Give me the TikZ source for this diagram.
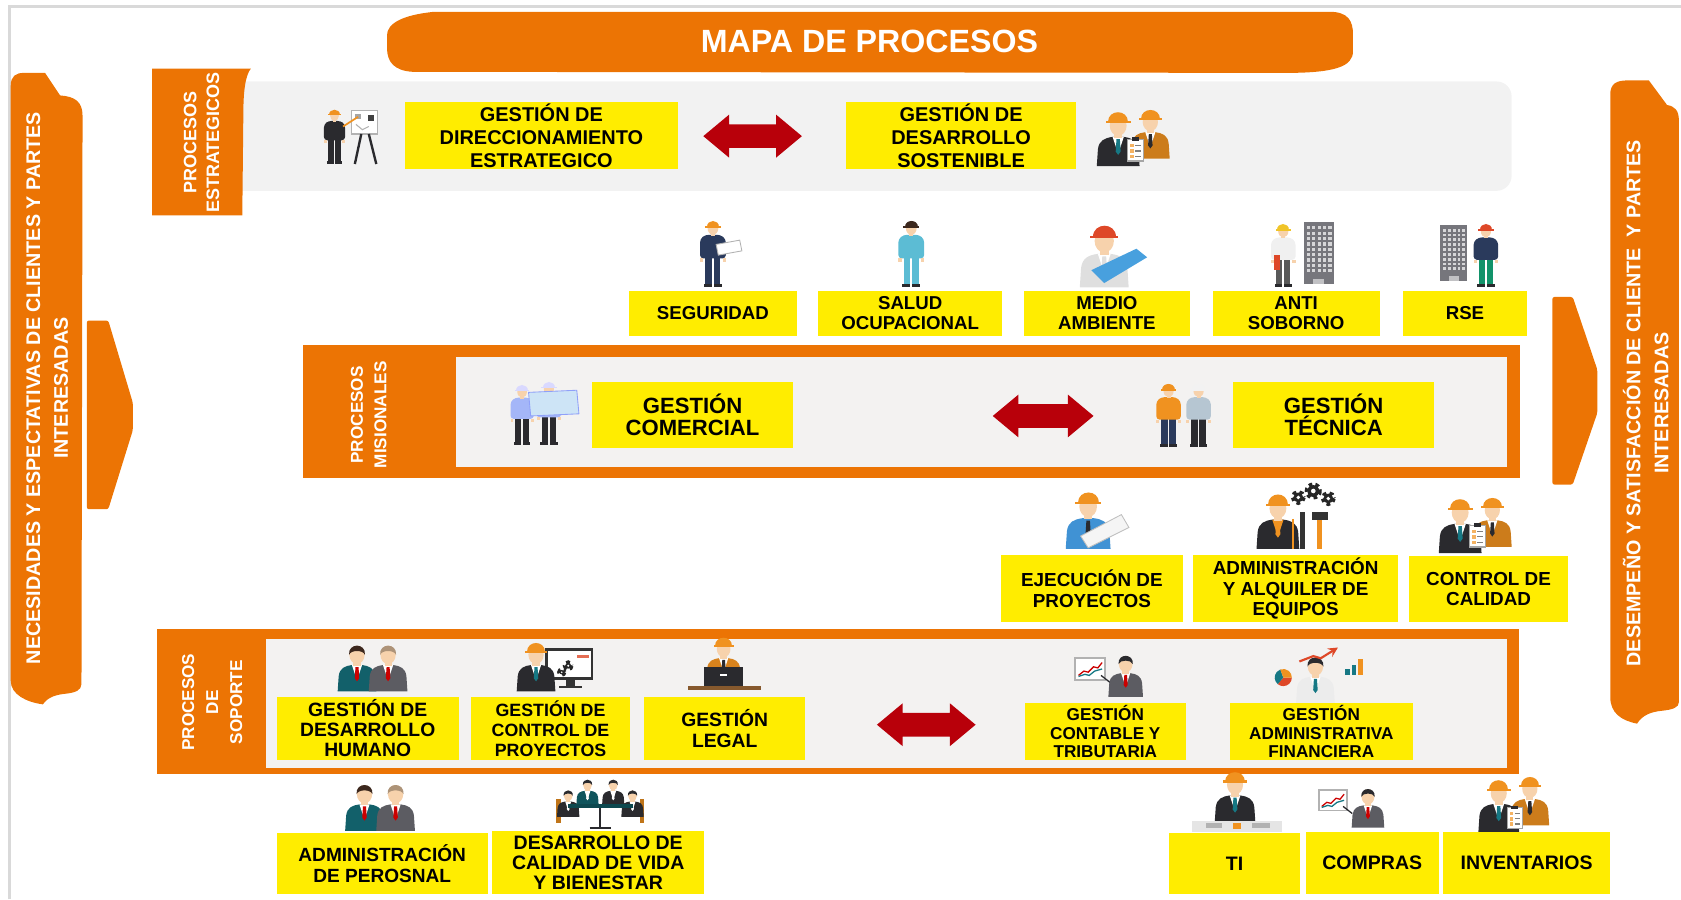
\documentclass[tikz,border=0pt]{standalone}
\usepackage{fontspec}
\setmainfont{Liberation Sans}
\usetikzlibrary{fit}

\definecolor{procorange}{RGB}{236,116,4}
\definecolor{boxyellow}{RGB}{255,237,0}
\definecolor{panelgray}{RGB}{242,242,242}
\definecolor{innergray}{RGB}{243,242,241}
\definecolor{arrowred}{RGB}{184,0,10}
\definecolor{framegray}{RGB}{217,217,217}
\definecolor{skin}{RGB}{247,210,172}
\definecolor{helm}{RGB}{240,146,32}
\definecolor{suitc}{RGB}{42,42,46}
\definecolor{tealc}{RGB}{22,120,132}
\definecolor{greysuit}{RGB}{92,92,98}
\definecolor{navyc}{RGB}{42,58,92}
\definecolor{paleblue}{RGB}{205,228,246}
\definecolor{blueprint}{RGB}{72,160,222}
\definecolor{shirtblue}{RGB}{64,146,212}
\definecolor{nursec}{RGB}{92,188,212}
\definecolor{redhelm}{RGB}{222,72,40}
\definecolor{yhelm}{RGB}{240,196,40}
\definecolor{hairc}{RGB}{60,40,30}
\definecolor{bldg}{RGB}{118,118,124}

\newcommand\boxfont[2]{\fontsize{#1pt}{#2pt}\selectfont\bfseries}
% yellow process box spanning two corners, with its label centred on it
\newcommand\procbox[8]{\node[ybox, fit={(#2,#3)(#4,#5)}] (#1) {};
  \node[boxtext, font=\boxfont{#6}{#7}] (#1txt) at (#1.center) {#8};}
% red two-headed block arrow: left tip x, right tip x, centre y
\newcommand\dblarrow[3]{\fill[arrowred] (#1,#3) -- ++(24,-20) -- ++(0,9) -- ({#2-24},{#3-11}) -- ++(0,-9) -- (#2,#3) -- ({#2-24},{#3+20}) -- ++(0,-9) -- ({#1+24},{#3+11}) -- ++(0,9) -- cycle;}

\tikzset{
  ybox/.style={fill=boxyellow, inner sep=0pt},
  boxtext/.style={inner sep=0pt, align=center, text=black},
  tabtext/.style={rotate=90, text=white, align=center},
  % head-and-shoulders figure with hard hat: helmet, suit, tie, shirt
  pics/bust/.style n args={4}{code={
    \fill[#2] (-19,0) -- (-18,-15) .. controls (-17,-23) and (-12,-25) .. (-5,-26) -- (5,-26) .. controls (12,-25) and (17,-23) .. (18,-15) -- (19,0) -- cycle;
    \fill[#4] (-5,-26) -- (0,-11) -- (5,-26) -- cycle;
    \fill[#3] (-1.5,-24) -- (1.5,-24) -- (2.2,-13) -- (0,-10) -- (-2.2,-13) -- cycle;
    \fill[skin] (-3.5,-30) rectangle (3.5,-25);
    \fill[skin] (0,-36) ellipse [x radius=7.5, y radius=9];
    \fill[#1] (-9,-39) .. controls (-9,-51) and (9,-51) .. (9,-39) -- cycle;
    \fill[#1] (-11,-40) rectangle (11,-38);
  }},
  % head-and-shoulders figure in a suit: hair, suit, tie
  pics/execbust/.style n args={3}{code={
    \fill[#2] (-19,0) -- (-18,-15) .. controls (-17,-23) and (-12,-25) .. (-5,-26) -- (5,-26) .. controls (12,-25) and (17,-23) .. (18,-15) -- (19,0) -- cycle;
    \fill[white] (-5,-26) -- (0,-11) -- (5,-26) -- cycle;
    \fill[#3] (-1.5,-24) -- (1.5,-24) -- (2.2,-13) -- (0,-10) -- (-2.2,-13) -- cycle;
    \fill[skin] (-3.5,-30) rectangle (3.5,-25);
    \fill[skin] (0,-36) ellipse [x radius=7.5, y radius=9];
    \fill[#1] (-7.8,-36) .. controls (-9,-48) and (9,-48) .. (7.8,-36) .. controls (6,-41) and (-6,-41) .. cycle;
  }},
  % standing figure: hat or hair, jacket, trousers
  pics/worker/.style n args={3}{code={
    \fill[#3] (-7,-2) rectangle (-0.8,-28);
    \fill[#3] (0.8,-2) rectangle (7,-28);
    \fill[suitc] (-8.5,0) rectangle (-0.8,-3);
    \fill[suitc] (0.8,0) rectangle (8.5,-3);
    \fill[#2, rounded corners=1.5pt] (-12,-27) -- (-12,-45) -- (-7,-49) -- (7,-49) -- (12,-45) -- (12,-27) -- cycle;
    \fill[skin] (-12,-27) rectangle (-9,-24);
    \fill[skin] (9,-27) rectangle (12,-24);
    \fill[skin] (-2,-52) rectangle (2,-48);
    \fill[skin] (0,-55) ellipse [x radius=5, y radius=6];
    \fill[#1] (-6,-56) .. controls (-6,-64) and (6,-64) .. (6,-56) -- cycle;
    \fill[#1] (-7.5,-57) rectangle (7.5,-55.5);
  }},
  pics/building/.style={code={
    \fill[bldg] (-14,0) rectangle (14,-58);
    \foreach \wy in {-54,-49,...,-14} \foreach \wx in {-11,-6,...,9} \fill[white!70!bldg] (\wx,\wy) rectangle ++(3,3);
    \fill[white!55!bldg] (-5,0) rectangle (5,-5);
  }},
  pics/clipboard/.style={code={
    \filldraw[fill=white, draw=gray!70, line width=0.5pt] (-9,-12) rectangle (9,12);
    \fill[suitc] (-4,-14) rectangle (4,-10);
    \foreach \wy in {-5,1,7} {\fill[helm!70] (-6,{\wy-2}) rectangle (-2,{\wy+2}); \draw[gray, line width=0.5pt] (0,\wy) -- (6,\wy);}
  }},
  pics/gear/.style={code={
    \draw[gray!30!black, line width=2pt, dash pattern=on 1.6pt off 1.4pt] (0,0) circle [radius=5];
    \fill[gray!30!black] (0,0) circle [radius=4.6];
    \fill[white] (0,0) circle [radius=1.8];
  }},
  pics/chartboard/.style={code={
    \filldraw[fill=white, draw=gray!60, line width=0.8pt] (0,0) rectangle (28,20);
    \draw[red!80!black, line width=0.6pt] (3,16) -- (8,12) -- (12,13) -- (17,8) -- (21,9) -- (25,4);
    \draw[tealc, line width=0.6pt] (3,17) -- (9,15) -- (13,16) -- (18,12) -- (25,10);
    \draw[suitc, line width=0.6pt] (24,16) -- (33,23);
  }},
}

\begin{document}
\begin{tikzpicture}[x=0.5pt, y=-0.5pt]
\useasboundingbox (0,0) rectangle (1568,839);

% frame
\draw[framegray, line width=1.2pt] (9,839) -- (9,6) -- (1568,6);

% title banner
\fill[procorange] (405,11) -- (1240,11) .. controls (1258,11) and (1262,20) .. (1262,32) -- (1262,48) .. controls (1262,62) and (1245,68) .. (1200,68) -- (385,67) .. controls (368,66) and (361,58) .. (361,45) -- (361,33) .. controls (361,22) and (375,14) .. (405,11) -- cycle;
\node[text=white, font=\boxfont{15}{17}] (title) at (811,39) {MAPA DE PROCESOS};

% side bars: inputs and outputs
\fill[procorange] (10,80) .. controls (10,71) and (15,68) .. (22,68) -- (42,68) -- (56,89) .. controls (70,90) and (77,95) .. (77,108) -- (76,638) .. controls (76,644) and (70,646) .. (62,647) .. controls (52,648) and (45,650) .. (40,657) .. controls (25,655) and (10,648) .. (10,635) -- cycle;
\node[tabtext, font=\boxfont{9.2}{13}] (needs) at (44,362) {NECESIDADES Y ESPECTATIVAS DE CLIENTES Y PARTES\\INTERESADAS};
\fill[procorange, rounded corners=1pt] (81,299) -- (101,299) -- (124,376) -- (124,401) -- (101,475) -- (81,475) -- cycle;

\fill[procorange] (1502,88) .. controls (1502,78) and (1508,75) .. (1518,75) -- (1538,75) -- (1555,98) .. controls (1562,99) and (1566,103) .. (1566,112) -- (1566,655) .. controls (1566,660) and (1560,662) .. (1550,663) .. controls (1540,664) and (1532,667) .. (1527,675) .. controls (1512,672) and (1502,665) .. (1502,650) -- cycle;
\node[tabtext, font=\boxfont{9.2}{13}] (results) at (1535,376) {DESEMPEÑO Y SATISFACCIÓN DE CLIENTE \ Y PARTES\\INTERESADAS};
\fill[procorange, rounded corners=1pt] (1448,277) -- (1467,277) -- (1490,345) -- (1490,385) -- (1467,452) -- (1448,452) -- cycle;

% strategic band
\fill[panelgray, rounded corners=7pt] (200,76) rectangle (1410,178);
\fill[procorange] (142,64) -- (234,64) .. controls (229,70) and (227,85) .. (227,105) -- (226,201) -- (142,201) -- cycle;
\node[tabtext, font=\boxfont{8.4}{10.5}] (tabE) at (188,133) {PROCESOS\\ESTRATEGICOS};

% mission band
\fill[procorange] (283,322) rectangle (1418,446);
\fill[innergray] (425,333) rectangle (1406,436);
\node[tabtext, font=\boxfont{8}{11}] (tabM) at (344,387) {PROCESOS\\MISIONALES};

% support band
\fill[procorange] (146,587) rectangle (1417,722);
\fill[innergray] (248,596) rectangle (1406,716);
\node[tabtext, font=\boxfont{8}{11.2}] (tabS) at (198,655) {PROCESOS\\DE\\SOPORTE};

% ---- figures ----
% presenter at easel
\pic[scale=0.82] at (312,153) {worker={helm}{suitc}{suitc}};
\filldraw[fill=white, draw=gray!60, line width=0.7pt] (328,103) rectangle (352,125);
\fill[gray!70] (331,106) rectangle (337,111);
\fill[gray!50!black] (343,107) rectangle (349,113);
\draw[gray!60, line width=0.5pt] (332,116) -- (338,121) -- (344,118);
\draw[suitc, line width=1.1pt] (337,125) -- (331,153) (344,125) -- (351,153);
\draw[helm, line width=0.8pt] (320,118) -- (334,109);

% two inspectors with checklist
\pic[scale=0.95] at (1073,148) {bust={helm}{helm!85!black}{suitc}{white}};
\pic[scale=1.05] at (1043,155) {bust={helm}{suitc}{tealc}{white}};
\pic[scale=0.85] at (1059,140) {clipboard};

% safety
\pic at (665,268) {worker={helm}{navyc}{navyc}};
\filldraw[fill=white, draw=gray!60, line width=0.4pt] (668,228) -- (690,224) -- (692,234) -- (670,238) -- cycle;
% occupational health
\pic at (850,268) {worker={hairc}{nursec}{nursec}};
% environment
\pic[scale=1.2] at (1030,268) {bust={redhelm}{gray!25}{gray!25}{white}};
\fill[blueprint] (1018,252) -- (1060,232) -- (1070,240) -- (1030,264) -- cycle;
% anti-bribery
\pic at (1230,265) {building};
\pic[scale=0.95] at (1197,268) {worker={yhelm}{gray!12}{gray!70!black}};
\fill[redhelm] (1188,238) rectangle (1194,252);
% CSR
\pic[scale=0.9] at (1356,262) {building};
\pic[scale=0.95] at (1386,268) {worker={redhelm}{navyc}{tealc!80!green}};

% commercial
\pic[scale=0.9] at (487,415) {worker={white!85!blue}{paleblue!80!blue}{suitc}};
\pic[scale=0.95] at (512,415) {worker={white!85!blue}{paleblue!80!blue}{suitc}};
\filldraw[fill=paleblue, draw=paleblue!70!blue, line width=0.4pt] (493,366) -- (538,364) -- (540,386) -- (495,388) -- cycle;
% technical
\pic[scale=0.95] at (1090,417) {worker={helm}{helm}{navyc}};
\pic[scale=0.95] at (1118,417) {worker={white!90!gray}{paleblue!70!gray}{suitc}};

% project execution
\pic[scale=1.1] at (1015,512) {bust={helm}{shirtblue}{suitc}{shirtblue}};
\filldraw[fill=gray!8, draw=gray!50, line width=0.4pt] (1008,500) -- (1046,480) -- (1053,492) -- (1015,511) -- cycle;
% equipment
\pic[scale=1.05] at (1192,512) {bust={helm}{suitc}{helm}{helm}};
\draw[line width=1pt, helm] (1206,484) -- (1206,512);
\draw[line width=2.2pt, gray!40!black] (1215,478) -- (1215,512);
\draw[line width=2.2pt, helm] (1231,484) -- (1231,512);
\fill[gray!40!black] (1224,478) rectangle (1239,485);
\pic at (1211,464) {gear};
\pic[scale=1.2] at (1225,458) {gear};
\pic at (1239,465) {gear};
% quality control
\pic[scale=0.95] at (1392,510) {bust={helm}{helm!85!black}{suitc}{white}};
\pic[scale=1.05] at (1362,516) {bust={helm}{suitc}{tealc}{white}};
\pic[scale=0.85] at (1378,500) {clipboard};

% human development
\pic[scale=0.95] at (333,645) {execbust={hairc}{tealc!80!black}{red!80!black}};
\pic[scale=0.95] at (362,645) {execbust={skin!70!black}{greysuit}{red!80!black}};
% project control
\filldraw[fill=white, draw=gray!40!black, line width=1.2pt] (510,606) rectangle (552,633);
\fill[gray!40!black] (528,633) rectangle (536,640);
\fill[gray!40!black] (521,640) rectangle (543,642);
\pic[scale=0.6] at (530,621) {gear};
\pic[scale=0.45] at (524,627) {gear};
\fill[redhelm!80] (538,611) rectangle (549,614);
\pic[scale=0.95] at (500,645) {bust={helm}{suitc}{tealc}{white}};
% legal
\pic[scale=0.85] at (675,636) {bust={helm}{helm!90!black}{suitc}{white}};
\fill[suitc] (657,622) rectangle (693,640);
\fill[white] (672,629) rectangle (678,631);
\fill[brown!70!black] (642,640) rectangle (710,644);
% accounting
\pic at (1003,614) {chartboard};
\pic[scale=0.85] at (1050,650) {execbust={suitc}{greysuit}{red!80!black}};
% finance
\pic[scale=0.95] at (1227,656) {execbust={suitc}{gray!15}{tealc}};
\fill[redhelm] (1197,632) -- ++(0:8) arc[start angle=0, end angle=130, radius=8] -- cycle;
\fill[tealc] (1197,632) -- ++(130:8) arc[start angle=130, end angle=250, radius=8] -- cycle;
\fill[helm] (1197,632) -- ++(250:8) arc[start angle=250, end angle=360, radius=8] -- cycle;
\fill[tealc] (1255,630) rectangle (1259,624);
\fill[tealc] (1261,630) rectangle (1265,620);
\fill[helm] (1267,630) rectangle (1271,615);
\draw[redhelm, line width=1pt, -stealth] (1212,617) -- (1225,612) -- (1232,614) -- (1248,604);

% staff administration
\pic[scale=0.95] at (340,775) {execbust={hairc}{tealc!80!black}{red!80!black}};
\pic[scale=0.95] at (369,775) {execbust={skin!70!black}{greysuit}{red!80!black}};
% wellbeing meeting
\fill[helm!80!black] (519,745) rectangle (523,768);
\fill[helm!80!black] (597,745) rectangle (601,768);
\pic[scale=0.55] at (530,762) {execbust={suitc}{suitc}{white}};
\pic[scale=0.55] at (548,752) {execbust={suitc}{tealc!70!black}{white}};
\pic[scale=0.55] at (572,752) {execbust={suitc}{suitc}{white}};
\pic[scale=0.55] at (590,762) {execbust={suitc}{suitc}{white}};
\fill[tealc!60!black] (530,750) rectangle (590,754);
\draw[suitc, line width=1pt] (560,754) -- (560,772) (550,772) -- (570,772);
% IT
\pic at (1152,768) {bust={helm}{suitc}{tealc}{white}};
\fill[gray!20] (1112,766) rectangle (1196,776);
\fill[gray!60] (1125,768) rectangle (1140,772);
\fill[helm] (1150,768) rectangle (1158,773);
\fill[gray!60] (1168,768) rectangle (1185,772);
% purchasing
\pic[scale=0.95] at (1230,737) {chartboard};
\pic[scale=0.8] at (1276,772) {execbust={suitc}{greysuit}{red!80!black}};
% inventory
\pic[scale=0.95] at (1427,770) {bust={helm}{helm!85!black}{suitc}{white}};
\pic at (1398,776) {bust={helm}{suitc}{tealc}{white}};
\pic[scale=0.8] at (1413,763) {clipboard};

% ---- process boxes ----
\procbox{dirE}{378}{95}{632}{158}{9.3}{10.7}{GESTIÓN DE\\DIRECCIONAMIENTO\\ESTRATEGICO}
\procbox{desS}{789}{95}{1004}{158}{9.3}{10.7}{GESTIÓN DE\\DESARROLLO\\SOSTENIBLE}

\procbox{seg}{587}{271}{743}{313}{8.7}{9}{SEGURIDAD}
\procbox{salud}{763}{271}{935}{313}{8.7}{9}{SALUD\\OCUPACIONAL}
\procbox{medio}{955}{271}{1110}{313}{8.7}{9}{MEDIO\\AMBIENTE}
\procbox{anti}{1131}{271}{1287}{313}{8.7}{9}{ANTI\\SOBORNO}
\procbox{rse}{1309}{271}{1424}{313}{8.7}{9}{RSE}

\procbox{com}{552}{356}{740}{418}{10.3}{10.6}{GESTIÓN\\COMERCIAL}
\procbox{tec}{1150}{356}{1338}{418}{10.3}{10.6}{GESTIÓN\\TÉCNICA}

\procbox{ejec}{934}{518}{1103}{580}{8.8}{9.5}{EJECUCIÓN DE\\PROYECTOS}
\procbox{equip}{1113}{518}{1304}{580}{8.8}{9.5}{ADMINISTRACIÓN\\Y ALQUILER DE\\EQUIPOS}
\procbox{calid}{1314}{519}{1463}{580}{8.8}{9.5}{CONTROL DE\\CALIDAD}

\procbox{hum}{258}{650}{428}{709}{9}{9.3}{GESTIÓN DE\\DESARROLLO\\HUMANO}
\procbox{ctrl}{439}{650}{588}{709}{8.3}{9.3}{GESTIÓN DE\\CONTROL DE\\PROYECTOS}
\procbox{legal}{601}{650}{751}{709}{9}{9.6}{GESTIÓN\\LEGAL}
\procbox{cont}{956}{656}{1106}{709}{8}{8.5}{GESTIÓN\\CONTABLE Y\\TRIBUTARIA}
\procbox{fin}{1147}{656}{1318}{709}{8}{8.5}{GESTIÓN\\ADMINISTRATIVA\\FINANCIERA}

\procbox{pers}{258}{777}{455}{834}{8.9}{9.6}{ADMINISTRACIÓN\\DE PEROSNAL}
\procbox{vida}{459}{775}{657}{834}{9.1}{9.3}{DESARROLLO DE\\CALIDAD DE VIDA\\Y BIENESTAR}
\procbox{ti}{1090}{777}{1213}{834}{9.1}{9.6}{TI}
\procbox{compras}{1218}{776}{1342}{834}{9.1}{9.6}{COMPRAS}
\procbox{inv}{1346}{776}{1502}{834}{9.1}{9.6}{INVENTARIOS}

% interaction arrows
\dblarrow{656}{748}{127}
\dblarrow{926}{1020}{388}
\dblarrow{818}{910}{676}
\end{tikzpicture}
\end{document}
